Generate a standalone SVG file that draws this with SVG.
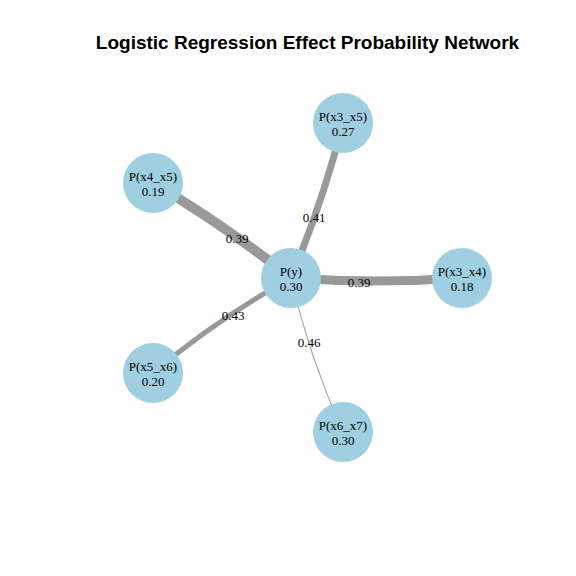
<svg xmlns="http://www.w3.org/2000/svg" width="576" height="576" viewBox="0 0 576 576">
<style>
.title{font-family:"Liberation Sans",Arial,sans-serif;font-weight:bold;font-size:19px;fill:#000}
.edge{fill:none;stroke:#999999;stroke-linecap:butt}
.elab{font-family:"Liberation Serif","Times New Roman",serif;font-size:13px;fill:#000;text-anchor:middle}
.node circle{fill:#9FCFE0;stroke:none}
.node text{font-family:"Liberation Serif","Times New Roman",serif;font-size:13px;fill:#000;text-anchor:middle}
</style>
<rect width="576" height="576" fill="#FFFFFF"/>
<text class="title" x="307.5" y="49" text-anchor="middle">Logistic Regression Effect Probability Network</text>
<g id="edges">
<path class="edge" d="M291,278 Q322.7,202.5 343,123" stroke-width="7"/>
<path class="edge" d="M291,278 Q376.5,284 462,278" stroke-width="9"/>
<path class="edge" d="M291,278 Q225.4,225.6 153,183" stroke-width="10"/>
<path class="edge" d="M291,278 Q217.4,318.9 153,373" stroke-width="5"/>
<path class="edge" d="M291,278 Q309.4,357.6 343,432" stroke-width="1"/>
<text class="elab" x="314" y="221.5">0.41</text>
<text class="elab" x="359" y="286.5">0.39</text>
<text class="elab" x="237" y="242.5">0.39</text>
<text class="elab" x="233" y="319.5">0.43</text>
<text class="elab" x="309" y="346.5">0.46</text>
</g>
<g id="node-y" class="node"><circle cx="291" cy="278" r="30"/><text x="291" y="276">P(y)</text><text x="291" y="291">0.30</text></g>
<g id="node-x3_x5" class="node"><circle cx="343" cy="123" r="30"/><text x="343" y="121">P(x3_x5)</text><text x="343" y="136">0.27</text></g>
<g id="node-x3_x4" class="node"><circle cx="462" cy="278" r="30"/><text x="462" y="276">P(x3_x4)</text><text x="462" y="291">0.18</text></g>
<g id="node-x4_x5" class="node"><circle cx="153" cy="183" r="30"/><text x="153" y="181">P(x4_x5)</text><text x="153" y="196">0.19</text></g>
<g id="node-x5_x6" class="node"><circle cx="153" cy="373" r="30"/><text x="153" y="371">P(x5_x6)</text><text x="153" y="386">0.20</text></g>
<g id="node-x6_x7" class="node"><circle cx="343" cy="432" r="30"/><text x="343" y="430">P(x6_x7)</text><text x="343" y="445">0.30</text></g>
</svg>
